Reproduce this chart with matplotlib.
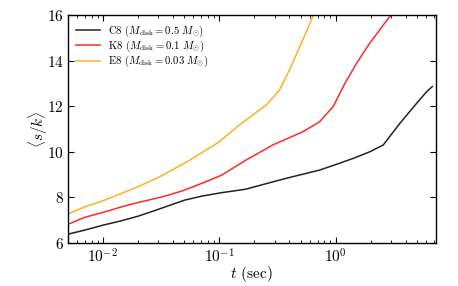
import matplotlib
matplotlib.use("Agg")
from matplotlib import pyplot as plt
from matplotlib.ticker import LogLocator, NullFormatter

plt.rcParams["font.family"] = "serif"
plt.rcParams["font.serif"] = ["cmr10", "DejaVu Serif"]
plt.rcParams["mathtext.fontset"] = "cm"
plt.rcParams["axes.formatter.use_mathtext"] = True

# C8 (M_disk = 0.5 Msun)
t_c8 = [0.005, 0.007, 0.0101, 0.0145, 0.0201, 0.030, 0.0418, 0.051, 0.071,
        0.105, 0.168, 0.376, 0.728, 1.08, 1.41, 1.96, 2.56, 3.56, 4.96,
        6.05, 6.76]
s_c8 = [6.39, 6.57, 6.79, 6.98, 7.18, 7.48, 7.74, 7.89, 8.06,
        8.21, 8.36, 8.84, 9.20, 9.50, 9.71, 10.0, 10.30, 11.25, 12.13,
        12.64, 12.86]

# K8 (M_disk = 0.1 Msun)
t_k8 = [0.005, 0.007, 0.0101, 0.0145, 0.0201, 0.0264, 0.0343, 0.0476, 0.071,
        0.105, 0.17, 0.288, 0.523, 0.728, 0.95, 1.20, 1.51, 1.96, 2.98]
s_k8 = [6.82, 7.13, 7.35, 7.59, 7.78, 7.92, 8.06, 8.28, 8.62,
        8.98, 9.64, 10.30, 10.88, 11.32, 11.98, 13.0, 13.88, 14.76, 16.0]

# E8 (M_disk = 0.03 Msun)
t_e8 = [0.005, 0.007, 0.0101, 0.0145, 0.0201, 0.030, 0.0418, 0.056, 0.1,
        0.149, 0.253, 0.329, 0.401, 0.506, 0.646]
s_e8 = [7.27, 7.59, 7.86, 8.18, 8.47, 8.88, 9.28, 9.64, 10.44,
        11.18, 12.05, 12.71, 13.59, 14.76, 16.0]

fig = plt.figure(figsize=(4.58, 2.86), dpi=100)
ax = fig.add_axes([0.148, 0.150, 0.803, 0.798])

ax.plot(t_c8, s_c8, color="#222222", lw=1.1,
        label=r"C8 ($M_{\rm disk} = 0.5\ M_{\odot}$)")
ax.plot(t_k8, s_k8, color="#ff2a2a", lw=1.1,
        label=r"K8 ($M_{\rm disk} = 0.1\ M_{\odot}$)")
ax.plot(t_e8, s_e8, color="#ffb020", lw=1.1,
        label=r"E8 ($M_{\rm disk} = 0.03\ M_{\odot}$)")

ax.set_xscale("log")
ax.set_xlim(0.005, 7.2)
ax.set_ylim(6, 16)
ax.set_yticks([6, 8, 10, 12, 14, 16])
ax.xaxis.set_minor_locator(LogLocator(base=10, subs=range(2, 10)))
ax.xaxis.set_minor_formatter(NullFormatter())
ax.tick_params(which="both", direction="in", top=True, right=True,
               labelsize=11)
ax.tick_params(which="major", length=4, pad=3)
ax.tick_params(which="minor", length=2)
for s in ax.spines.values():
    s.set_linewidth(1.0)

ax.set_xlabel(r"$t$ (sec)", fontsize=11, labelpad=-1)
ax.set_ylabel(r"$\langle s/k \rangle$", fontsize=11, labelpad=-2)
ax.legend(loc="upper left", frameon=False, fontsize=7.7,
          handlelength=2.2, borderaxespad=0.4, labelspacing=0.0)

fig.savefig("out.png", dpi=100)
